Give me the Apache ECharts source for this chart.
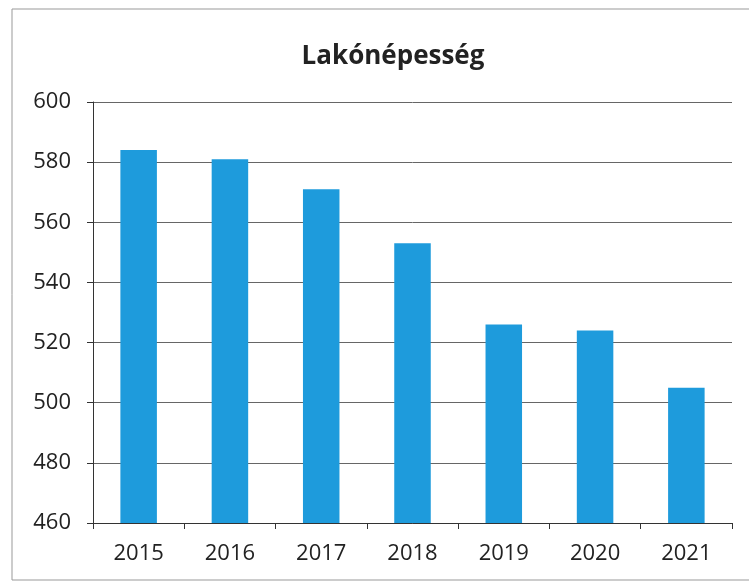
<!DOCTYPE html>
<html>
<head>
<meta charset="utf-8">
<script src="https://cdn.jsdelivr.net/npm/echarts@6/dist/echarts.min.js"></script>
<style>
    html, body { margin: 0; padding: 0; background: #fff; }
    #chart { width: 749px; height: 584px; }
</style>
</head>
<body>
<div id="chart"></div>
<script>
    // évek és lakónépesség
    var years = ['2015', '2016', '2017', '2018', '2019', '2020', '2021'];
    var population = [584, 581, 571, 553, 526, 524, 505];
    var yTicks = { min: 460, max: 600, step: 20 };

    var chart = echarts.init(document.getElementById('chart'));
    chart.setOption({
        animation: false,
        backgroundColor: '#fff',
        textStyle: { fontFamily: 'Open Sans' },
        title: {
            text: 'Lakónépesség',
            left: 388,
            textAlign: 'center',
            top: 39,
            textStyle: { fontSize: 26, fontWeight: 'bold', color: '#222' }
        },
        graphic: [{
            type: 'rect',
            shape: { x: 12, y: 9, width: 760, height: 571 },
            style: { fill: 'none', stroke: '#999', lineWidth: 1 },
            silent: true
        }],
        grid: { left: 93, right: 17, top: 102, bottom: 61 },
        xAxis: {
            type: 'category',
            data: years,
            axisLine: { lineStyle: { color: '#333' } },
            axisTick: { show: true, length: 6, lineStyle: { color: '#333' } },
            axisLabel: { fontSize: 22, color: '#222', margin: 20 }
        },
        yAxis: {
            type: 'value',
            min: yTicks.min,
            max: yTicks.max,
            interval: yTicks.step,
            axisLine: { show: true, lineStyle: { color: '#333' } },
            axisTick: { show: true, length: 6, lineStyle: { color: '#333' } },
            axisLabel: { fontSize: 22, color: '#222', margin: 22 },
            splitLine: { lineStyle: { color: '#666', width: 1 } }
        },
        series: [{
            type: 'bar',
            data: population,
            barWidth: '40%',
            itemStyle: { color: '#1e9bdc' }
        }]
    });
</script>
</body>
</html>
